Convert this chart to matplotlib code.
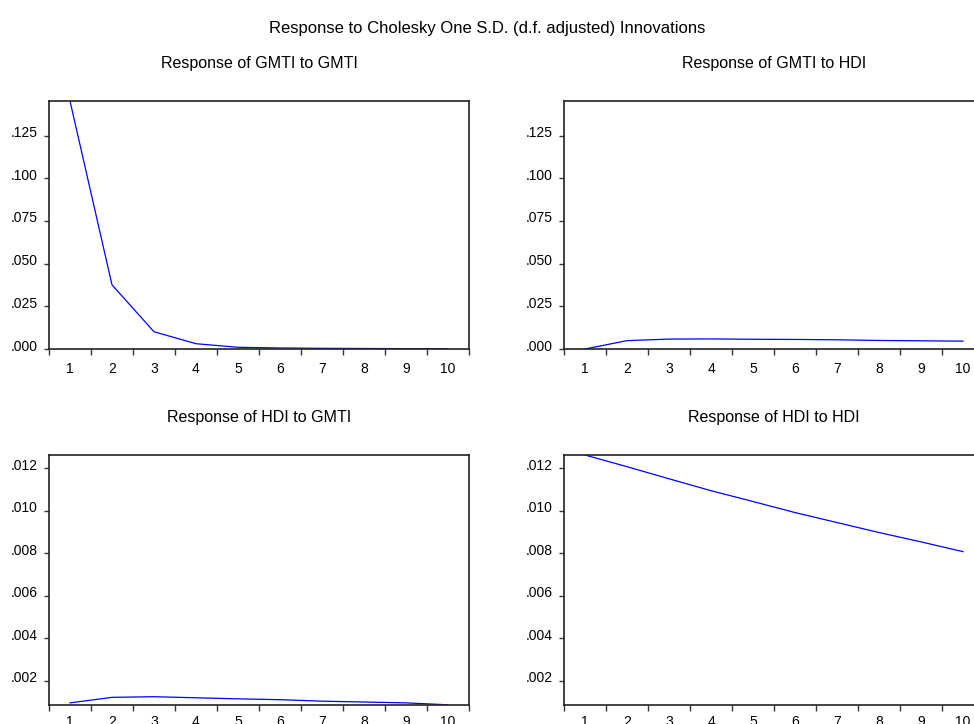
import matplotlib
matplotlib.use("Agg")
import matplotlib.pyplot as plt
import matplotlib.transforms as mtransforms
from matplotlib.ticker import FuncFormatter, FixedLocator
import numpy as np

plt.rcParams['font.family'] = ['Liberation Sans', 'DejaVu Sans']

periods = np.arange(1, 11)

# impulse responses
gmti_to_gmti = [0.1453, 0.0376, 0.0101, 0.0031, 0.0010, 0.0006, 0.0004, 0.0003, 0.0002, 0.0002]
gmti_to_hdi = [0.0000, 0.0049, 0.0058, 0.0059, 0.0057, 0.0056, 0.0054, 0.0050, 0.0048, 0.0046]
hdi_to_gmti = [0.00096, 0.00122, 0.00125, 0.00120, 0.00115, 0.00111, 0.00104, 0.00100, 0.00096, 0.00087]
hdi_to_hdi = [0.01263, 0.01208, 0.01151, 0.01095, 0.01044, 0.00992, 0.00945, 0.00898, 0.00854, 0.00808]

titles = ["Response of GMTI to GMTI", "Response of GMTI to HDI",
          "Response of HDI to GMTI", "Response of HDI to HDI"]
series = [gmti_to_gmti, gmti_to_hdi, hdi_to_gmti, hdi_to_hdi]

top_ticks = [0.000, 0.025, 0.050, 0.075, 0.100, 0.125]
bot_ticks = [0.002, 0.004, 0.006, 0.008, 0.010, 0.012]
top_ylim = (0.0, 0.1453)
bot_ylim = (0.00086, 0.01263)

W, H = 974, 724
fig = plt.figure(figsize=(W / 100, H / 100), dpi=100)

# axes boxes in pixels: left, top, right, bottom
boxes = [(49, 101, 469, 349), (564, 101, 984, 349),
         (49, 455, 469, 705), (564, 455, 984, 705)]


def dot_fmt(v, pos):
    s = "%.3f" % v
    return s[1:] if s.startswith("0") else s


for i, (box, ys, title) in enumerate(zip(boxes, series, titles)):
    l, t, r, b = box
    ax = fig.add_axes([l / W, 1 - b / H, (r - l) / W, (b - t) / H])
    ax.plot(periods, ys, color="#0000ff", lw=0.9)
    ax.set_xlim(0.5, 10.5)
    if i < 2:
        ax.set_ylim(*top_ylim)
        ax.set_yticks(top_ticks)
        xpad = 9.4
    else:
        ax.set_ylim(*bot_ylim)
        ax.set_yticks(bot_ticks)
        xpad = 7.2
    ax.yaxis.set_major_formatter(FuncFormatter(dot_fmt))
    # labels at integers, tick marks between them
    ax.xaxis.set_major_locator(FixedLocator(np.arange(0.5, 11, 1)))
    ax.xaxis.set_minor_locator(FixedLocator(periods))
    ax.set_xticklabels([])
    ax.set_xticklabels([str(p) for p in periods], minor=True)
    ax.tick_params(axis="x", which="major", direction="out", length=4.3, width=1, color="#333333")
    ax.tick_params(axis="x", which="minor", length=0, pad=xpad, labelsize=10)
    ax.tick_params(axis="y", direction="out", length=3.6, width=1, pad=4.6, labelsize=10, color="#333333")
    # eviews puts the value label a bit above its tick
    shift = mtransforms.ScaledTranslation(0, 4 / 100, fig.dpi_scale_trans)
    for lab in ax.get_yticklabels():
        lab.set_transform(lab.get_transform() + shift)
    for sp in ax.spines.values():
        sp.set_linewidth(1.2)
        sp.set_color("#222222")
    ax.set_title(title, fontsize=11.5, pad=23.8)

fig.text(487 / W, 1 - 33 / H, "Response to Cholesky One S.D. (d.f. adjusted) Innovations",
         ha="center", va="baseline", fontsize=12)

fig.savefig("out.png", dpi=100)
